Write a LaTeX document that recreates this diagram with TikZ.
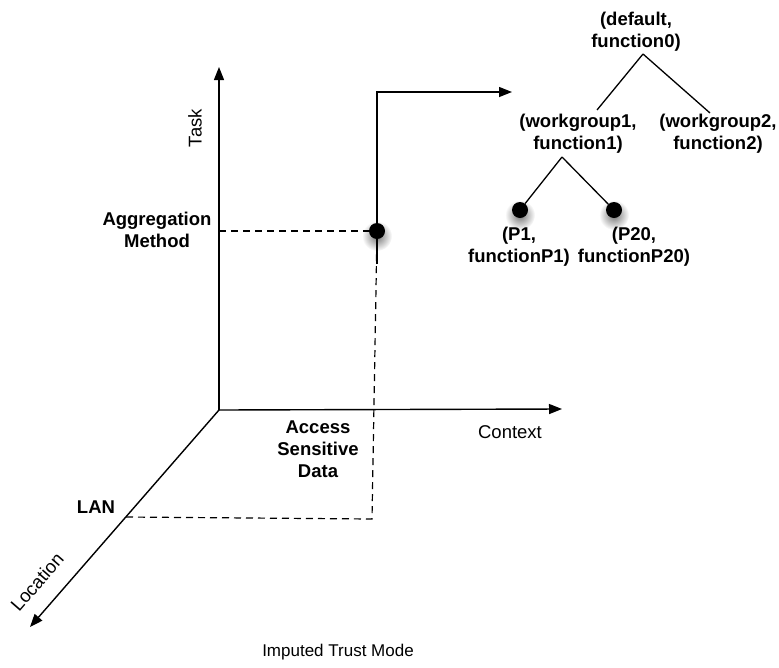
\documentclass[tikz,border=0pt]{standalone}
\usepackage{fontspec}
\setmainfont{Liberation Sans}
\usetikzlibrary{arrows.meta,fadings}
\tikzfading[name=softdot,inner color=transparent!0,outer color=transparent!100]
\begin{document}
\begin{tikzpicture}[x=1pt,y=-1pt,
  axis/.style={line width=1.4pt,-{Triangle[length=13pt,width=10pt]}},
  guide/.style={line width=1.2pt,dash pattern=on 7pt off 5pt},
  branch/.style={line width=1.3pt},
  lbl/.style={inner sep=0pt,align=center,font=\fontsize{18.5}{22}\selectfont},
  blbl/.style={lbl,font=\fontsize{18.5}{22}\selectfont\bfseries},
  dot/.style={circle,fill=black,inner sep=0pt,minimum size=16pt},
  halo/.style={fill=black,opacity=.55,path fading=softdot}]
\useasboundingbox (0,0) rectangle (779,667);

% axes
\coordinate (O) at (219,410);
\coordinate (taskTip) at (219,67);
\coordinate (ctxTip) at (562,409);
\coordinate (locTip) at (30,627);
\coordinate (lan) at (126,517);
\coordinate (corner) at (372,519);
\coordinate (arrowEnd) at (512,92);

\draw[axis] (O) -- (taskTip);
\draw[axis] (O) -- (ctxTip);
\draw[axis] (O) -- (locTip);

% axis titles
\node[lbl,rotate=90] (task) at (195,128) {Task};
\node[lbl] (context) at (510,432) {Context};
\node[lbl,rotate=49] (location) at (37,582) {Location};

% values on the axes
\node[blbl] (agg) at (157,230) {Aggregation\\Method};
\node[blbl] (access) at (318,449) {Access\\Sensitive\\Data};
\node[blbl] (lanlbl) at (96,507) {LAN};

% soft shadows under the points
\fill[halo] (377,236) circle (15);
\fill[halo] (520,215) circle (15);
\fill[halo] (614,215) circle (15);

% the point and its projections
\node[dot] (pt) at (377,231) {};
\draw[guide] (219,231) -- (pt);
\draw[guide] (lan) -- (corner) -- (pt);

% link to the hierarchy
\draw[line width=1.4pt,-{Triangle[length=13pt,width=10pt]}] ([yshift=-33pt]pt.center) |- (arrowEnd);

% hierarchy
\node[blbl] (root) at (636,32) {(default,\\function0)};
\node[blbl] (wg1) at (578,134) {(workgroup1,\\function1)};
\node[blbl] (wg2) at (718,134) {(workgroup2,\\function2)};
\node[dot] (p1) at (520,210) {};
\node[dot] (p20) at (614,210) {};
\node[blbl] (p1lbl) at (519,247) {(P1,\\functionP1)};
\node[blbl] (p20lbl) at (634,247) {(P20,\\functionP20)};

\draw[branch] (643,54) -- (597,110);
\draw[branch] (643,54) -- (710,113);
\draw[branch] (562,157) -- (p1);
\draw[branch] (562,157) -- (p20);

% caption
\node[lbl,font=\fontsize{17}{20}\selectfont] (caption) at (338,652) {Imputed Trust Mode};
\end{tikzpicture}
\end{document}
